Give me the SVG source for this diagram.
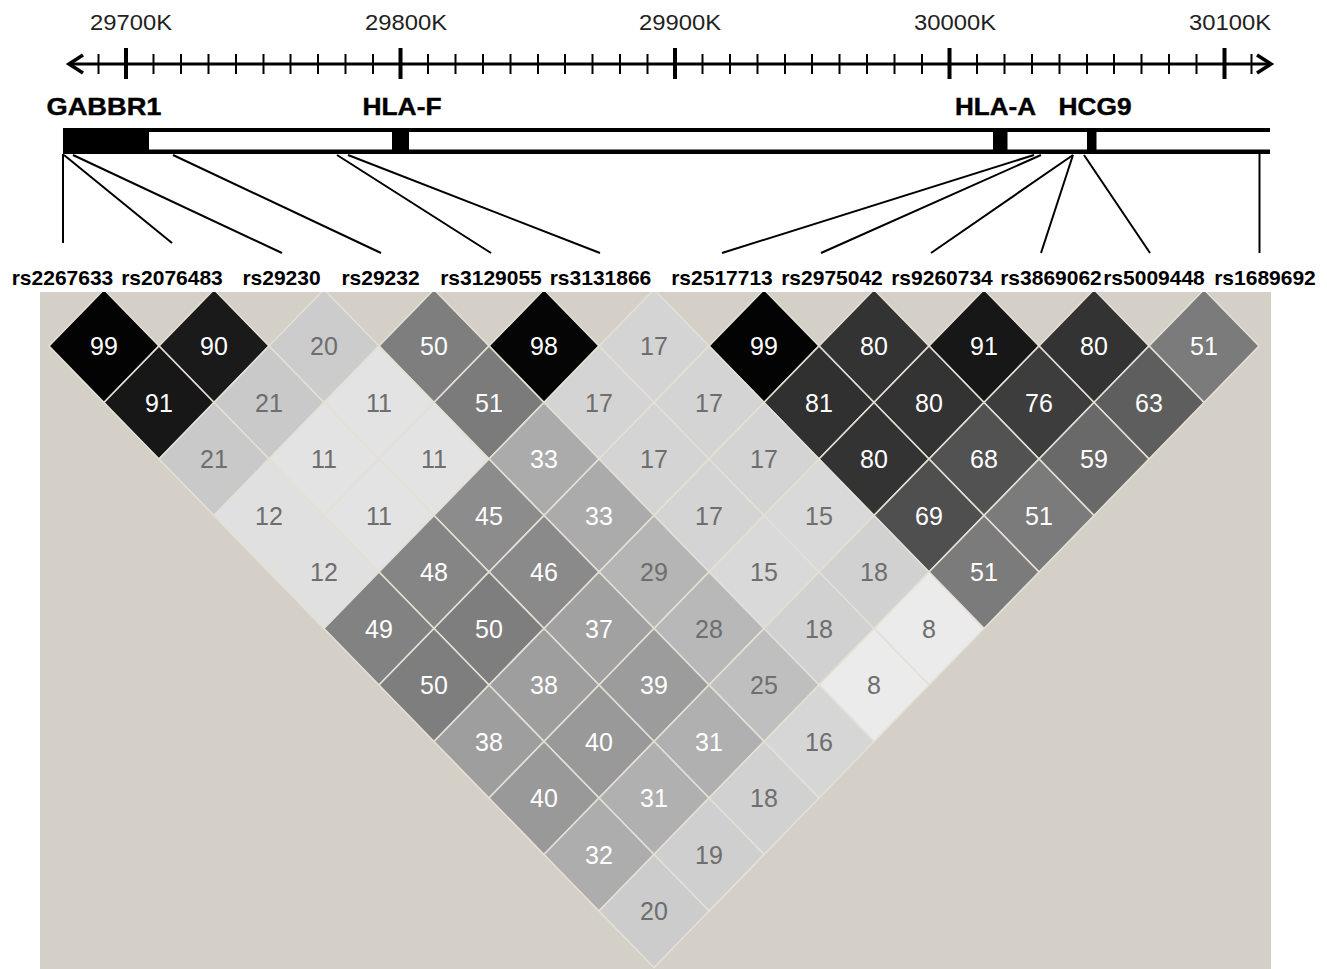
<svg xmlns="http://www.w3.org/2000/svg" xmlns:xlink="http://www.w3.org/1999/xlink" width="1327" height="969" viewBox="0 0 1327 969">
<style>
.ax{font-family:"Liberation Sans",Arial,sans-serif;font-size:22px;fill:#222;text-anchor:middle}
.gene{font-family:"Liberation Sans",Arial,sans-serif;font-size:23px;font-weight:bold;fill:#000;text-anchor:middle;stroke:#000;stroke-width:0.4}
.snp{font-family:"Liberation Sans",Arial,sans-serif;font-size:21px;font-weight:bold;fill:#000;text-anchor:middle}
.n{font-family:"Liberation Sans",Arial,sans-serif;font-size:25px;text-anchor:middle}
.tw{fill:#ffffff}
.tg{fill:#6e6e6e}
.con line{stroke:#000;stroke-width:2}
use{stroke:#e4e0d4;stroke-width:1.6}
.v99{fill:#030303}.v98{fill:#050505}.v91{fill:#171717}.v90{fill:#1a1a1a}.v81{fill:#303030}.v80{fill:#333333}.v76{fill:#3d3d3d}.v69{fill:#4f4f4f}.v68{fill:#525252}.v63{fill:#5e5e5e}.v59{fill:#696969}.v51{fill:#7b7b7b}.v50{fill:#7e7e7e}.v49{fill:#828282}.v48{fill:#858585}.v46{fill:#8a8a8a}.v45{fill:#8c8c8c}.v40{fill:#999999}.v39{fill:#9c9c9c}.v38{fill:#9e9e9e}.v37{fill:#a1a1a1}.v33{fill:#ababab}.v32{fill:#adadad}.v31{fill:#b0b0b0}.v29{fill:#b5b5b5}.v28{fill:#b8b8b8}.v25{fill:#bfbfbf}.v21{fill:#c9c9c9}.v20{fill:#cccccc}.v19{fill:#cfcfcf}.v18{fill:#d1d1d1}.v17{fill:#d4d4d4}.v16{fill:#d6d6d6}.v15{fill:#d9d9d9}.v12{fill:#e0e0e0}.v11{fill:#e3e3e3}.v8{fill:#ebebeb}
</style>
<defs>
<path id="dia" d="M0,-56.5 L55,0 L0,56.5 L-55,0Z"/>
<clipPath id="bgclip"><rect x="40" y="292" width="1231" height="677"/></clipPath>
</defs>
<rect width="1327" height="969" fill="#ffffff"/>

<g id="axis">
<line x1="70" y1="64" x2="1270" y2="64" stroke="#000" stroke-width="3"/>
<polyline points="83,55 69,64 83,73" fill="none" stroke="#000" stroke-width="3.5"/>
<polyline points="1257,55 1271,64 1257,73" fill="none" stroke="#000" stroke-width="3.5"/>
<path d="M98.5 54V74M153.5 54V74M181 54V74M208.5 54V74M236 54V74M263.5 54V74M290.5 54V74M318 54V74M345.5 54V74M373 54V74M428 54V74M455.5 54V74M483 54V74M510.5 54V74M538 54V74M565 54V74M592.5 54V74M620 54V74M647.5 54V74M702.5 54V74M730 54V74M757.5 54V74M785 54V74M812 54V74M839.5 54V74M867 54V74M894.5 54V74M922 54V74M977 54V74M1004.5 54V74M1032 54V74M1059.5 54V74M1087 54V74M1114 54V74M1141.5 54V74M1169 54V74M1196.5 54V74M1251.5 54V74" stroke="#000" stroke-width="2"/>
<path d="M126 48V79M400.5 48V79M675 48V79M949.5 48V79M1224.5 48V79" stroke="#000" stroke-width="4"/>
<text class="ax" x="131" y="30" textLength="82" lengthAdjust="spacingAndGlyphs">29700K</text>
<text class="ax" x="406" y="30" textLength="82" lengthAdjust="spacingAndGlyphs">29800K</text>
<text class="ax" x="680" y="30" textLength="82" lengthAdjust="spacingAndGlyphs">29900K</text>
<text class="ax" x="955" y="30" textLength="82" lengthAdjust="spacingAndGlyphs">30000K</text>
<text class="ax" x="1230" y="30" textLength="82" lengthAdjust="spacingAndGlyphs">30100K</text>
</g>

<g id="genebar">
<rect x="63" y="128" width="1207" height="4" fill="#000"/>
<rect x="63" y="149.5" width="1207" height="4.5" fill="#000"/>
</g>
<g id="gene-GABBR1">
<rect x="63" y="128" width="86" height="26" fill="#000"/>
<text class="gene" x="104" y="115" textLength="115" lengthAdjust="spacingAndGlyphs">GABBR1</text>
</g>
<g id="gene-HLA-F">
<rect x="392" y="128" width="17" height="26" fill="#000"/>
<text class="gene" x="402" y="115" textLength="79" lengthAdjust="spacingAndGlyphs">HLA-F</text>
</g>
<g id="gene-HLA-A">
<rect x="993" y="128" width="14.5" height="26" fill="#000"/>
<text class="gene" x="995.5" y="115" textLength="81" lengthAdjust="spacingAndGlyphs">HLA-A</text>
</g>
<g id="gene-HCG9">
<rect x="1087" y="128" width="9.5" height="26" fill="#000"/>
<text class="gene" x="1095" y="115" textLength="73" lengthAdjust="spacingAndGlyphs">HCG9</text>
</g>

<g id="connectors" class="con">
<line x1="63" y1="154" x2="63" y2="243"/>
<line x1="64" y1="155" x2="172" y2="243"/>
<line x1="73" y1="155" x2="282" y2="253"/>
<line x1="173" y1="155" x2="381" y2="253"/>
<line x1="337" y1="155" x2="491" y2="253"/>
<line x1="348" y1="155" x2="600" y2="253"/>
<line x1="1034" y1="155" x2="722" y2="253"/>
<line x1="1041" y1="155" x2="821" y2="253"/>
<line x1="1073" y1="155" x2="931" y2="253"/>
<line x1="1073" y1="155" x2="1041" y2="253"/>
<line x1="1084" y1="155" x2="1150" y2="253"/>
<line x1="1259.5" y1="154" x2="1259.5" y2="253"/>
</g>

<g id="snp-labels">
<text class="snp" x="62.5" y="285">rs2267633</text>
<text class="snp" x="172" y="285">rs2076483</text>
<text class="snp" x="281.5" y="285">rs29230</text>
<text class="snp" x="380.5" y="285">rs29232</text>
<text class="snp" x="491" y="285">rs3129055</text>
<text class="snp" x="600.5" y="285">rs3131866</text>
<text class="snp" x="722" y="285">rs2517713</text>
<text class="snp" x="832" y="285">rs2975042</text>
<text class="snp" x="942" y="285">rs9260734</text>
<text class="snp" x="1051" y="285">rs3869062</text>
<text class="snp" x="1154" y="285">rs5009448</text>
<text class="snp" x="1265" y="285">rs1689692</text>
</g>

<rect id="ld-background" x="40" y="292" width="1231" height="677" fill="#d4d0c8"/>

<g id="ld-plot" clip-path="url(#bgclip)">
<g id="ld-1-2"><use href="#dia" x="104" y="346" class="v99"/><text class="n tw" x="104" y="355">99</text></g>
<g id="ld-2-3"><use href="#dia" x="214" y="346" class="v90"/><text class="n tw" x="214" y="355">90</text></g>
<g id="ld-3-4"><use href="#dia" x="324" y="346" class="v20"/><text class="n tg" x="324" y="355">20</text></g>
<g id="ld-4-5"><use href="#dia" x="434" y="346" class="v50"/><text class="n tw" x="434" y="355">50</text></g>
<g id="ld-5-6"><use href="#dia" x="544" y="346" class="v98"/><text class="n tw" x="544" y="355">98</text></g>
<g id="ld-6-7"><use href="#dia" x="654" y="346" class="v17"/><text class="n tg" x="654" y="355">17</text></g>
<g id="ld-7-8"><use href="#dia" x="764" y="346" class="v99"/><text class="n tw" x="764" y="355">99</text></g>
<g id="ld-8-9"><use href="#dia" x="874" y="346" class="v80"/><text class="n tw" x="874" y="355">80</text></g>
<g id="ld-9-10"><use href="#dia" x="984" y="346" class="v91"/><text class="n tw" x="984" y="355">91</text></g>
<g id="ld-10-11"><use href="#dia" x="1094" y="346" class="v80"/><text class="n tw" x="1094" y="355">80</text></g>
<g id="ld-11-12"><use href="#dia" x="1204" y="346" class="v51"/><text class="n tw" x="1204" y="355">51</text></g>

<g id="ld-1-3"><use href="#dia" x="159" y="402.5" class="v91"/><text class="n tw" x="159" y="411.5">91</text></g>
<g id="ld-2-4"><use href="#dia" x="269" y="402.5" class="v21"/><text class="n tg" x="269" y="411.5">21</text></g>
<g id="ld-3-5"><use href="#dia" x="379" y="402.5" class="v11"/><text class="n tg" x="379" y="411.5">11</text></g>
<g id="ld-4-6"><use href="#dia" x="489" y="402.5" class="v51"/><text class="n tw" x="489" y="411.5">51</text></g>
<g id="ld-5-7"><use href="#dia" x="599" y="402.5" class="v17"/><text class="n tg" x="599" y="411.5">17</text></g>
<g id="ld-6-8"><use href="#dia" x="709" y="402.5" class="v17"/><text class="n tg" x="709" y="411.5">17</text></g>
<g id="ld-7-9"><use href="#dia" x="819" y="402.5" class="v81"/><text class="n tw" x="819" y="411.5">81</text></g>
<g id="ld-8-10"><use href="#dia" x="929" y="402.5" class="v80"/><text class="n tw" x="929" y="411.5">80</text></g>
<g id="ld-9-11"><use href="#dia" x="1039" y="402.5" class="v76"/><text class="n tw" x="1039" y="411.5">76</text></g>
<g id="ld-10-12"><use href="#dia" x="1149" y="402.5" class="v63"/><text class="n tw" x="1149" y="411.5">63</text></g>

<g id="ld-1-4"><use href="#dia" x="214" y="459" class="v21"/><text class="n tg" x="214" y="468">21</text></g>
<g id="ld-2-5"><use href="#dia" x="324" y="459" class="v11"/><text class="n tg" x="324" y="468">11</text></g>
<g id="ld-3-6"><use href="#dia" x="434" y="459" class="v11"/><text class="n tg" x="434" y="468">11</text></g>
<g id="ld-4-7"><use href="#dia" x="544" y="459" class="v33"/><text class="n tw" x="544" y="468">33</text></g>
<g id="ld-5-8"><use href="#dia" x="654" y="459" class="v17"/><text class="n tg" x="654" y="468">17</text></g>
<g id="ld-6-9"><use href="#dia" x="764" y="459" class="v17"/><text class="n tg" x="764" y="468">17</text></g>
<g id="ld-7-10"><use href="#dia" x="874" y="459" class="v80"/><text class="n tw" x="874" y="468">80</text></g>
<g id="ld-8-11"><use href="#dia" x="984" y="459" class="v68"/><text class="n tw" x="984" y="468">68</text></g>
<g id="ld-9-12"><use href="#dia" x="1094" y="459" class="v59"/><text class="n tw" x="1094" y="468">59</text></g>

<g id="ld-1-5"><use href="#dia" x="269" y="515.5" class="v12"/><text class="n tg" x="269" y="524.5">12</text></g>
<g id="ld-2-6"><use href="#dia" x="379" y="515.5" class="v11"/><text class="n tg" x="379" y="524.5">11</text></g>
<g id="ld-3-7"><use href="#dia" x="489" y="515.5" class="v45"/><text class="n tw" x="489" y="524.5">45</text></g>
<g id="ld-4-8"><use href="#dia" x="599" y="515.5" class="v33"/><text class="n tw" x="599" y="524.5">33</text></g>
<g id="ld-5-9"><use href="#dia" x="709" y="515.5" class="v17"/><text class="n tg" x="709" y="524.5">17</text></g>
<g id="ld-6-10"><use href="#dia" x="819" y="515.5" class="v15"/><text class="n tg" x="819" y="524.5">15</text></g>
<g id="ld-7-11"><use href="#dia" x="929" y="515.5" class="v69"/><text class="n tw" x="929" y="524.5">69</text></g>
<g id="ld-8-12"><use href="#dia" x="1039" y="515.5" class="v51"/><text class="n tw" x="1039" y="524.5">51</text></g>

<g id="ld-1-6"><use href="#dia" x="324" y="572" class="v12"/><text class="n tg" x="324" y="581">12</text></g>
<g id="ld-2-7"><use href="#dia" x="434" y="572" class="v48"/><text class="n tw" x="434" y="581">48</text></g>
<g id="ld-3-8"><use href="#dia" x="544" y="572" class="v46"/><text class="n tw" x="544" y="581">46</text></g>
<g id="ld-4-9"><use href="#dia" x="654" y="572" class="v29"/><text class="n tg" x="654" y="581">29</text></g>
<g id="ld-5-10"><use href="#dia" x="764" y="572" class="v15"/><text class="n tg" x="764" y="581">15</text></g>
<g id="ld-6-11"><use href="#dia" x="874" y="572" class="v18"/><text class="n tg" x="874" y="581">18</text></g>
<g id="ld-7-12"><use href="#dia" x="984" y="572" class="v51"/><text class="n tw" x="984" y="581">51</text></g>

<g id="ld-1-7"><use href="#dia" x="379" y="628.5" class="v49"/><text class="n tw" x="379" y="637.5">49</text></g>
<g id="ld-2-8"><use href="#dia" x="489" y="628.5" class="v50"/><text class="n tw" x="489" y="637.5">50</text></g>
<g id="ld-3-9"><use href="#dia" x="599" y="628.5" class="v37"/><text class="n tw" x="599" y="637.5">37</text></g>
<g id="ld-4-10"><use href="#dia" x="709" y="628.5" class="v28"/><text class="n tg" x="709" y="637.5">28</text></g>
<g id="ld-5-11"><use href="#dia" x="819" y="628.5" class="v18"/><text class="n tg" x="819" y="637.5">18</text></g>
<g id="ld-6-12"><use href="#dia" x="929" y="628.5" class="v8"/><text class="n tg" x="929" y="637.5">8</text></g>

<g id="ld-1-8"><use href="#dia" x="434" y="685" class="v50"/><text class="n tw" x="434" y="694">50</text></g>
<g id="ld-2-9"><use href="#dia" x="544" y="685" class="v38"/><text class="n tw" x="544" y="694">38</text></g>
<g id="ld-3-10"><use href="#dia" x="654" y="685" class="v39"/><text class="n tw" x="654" y="694">39</text></g>
<g id="ld-4-11"><use href="#dia" x="764" y="685" class="v25"/><text class="n tg" x="764" y="694">25</text></g>
<g id="ld-5-12"><use href="#dia" x="874" y="685" class="v8"/><text class="n tg" x="874" y="694">8</text></g>

<g id="ld-1-9"><use href="#dia" x="489" y="741.5" class="v38"/><text class="n tw" x="489" y="750.5">38</text></g>
<g id="ld-2-10"><use href="#dia" x="599" y="741.5" class="v40"/><text class="n tw" x="599" y="750.5">40</text></g>
<g id="ld-3-11"><use href="#dia" x="709" y="741.5" class="v31"/><text class="n tw" x="709" y="750.5">31</text></g>
<g id="ld-4-12"><use href="#dia" x="819" y="741.5" class="v16"/><text class="n tg" x="819" y="750.5">16</text></g>

<g id="ld-1-10"><use href="#dia" x="544" y="798" class="v40"/><text class="n tw" x="544" y="807">40</text></g>
<g id="ld-2-11"><use href="#dia" x="654" y="798" class="v31"/><text class="n tw" x="654" y="807">31</text></g>
<g id="ld-3-12"><use href="#dia" x="764" y="798" class="v18"/><text class="n tg" x="764" y="807">18</text></g>

<g id="ld-1-11"><use href="#dia" x="599" y="854.5" class="v32"/><text class="n tw" x="599" y="863.5">32</text></g>
<g id="ld-2-12"><use href="#dia" x="709" y="854.5" class="v19"/><text class="n tg" x="709" y="863.5">19</text></g>

<g id="ld-1-12"><use href="#dia" x="654" y="911" class="v20"/><text class="n tg" x="654" y="920">20</text></g>
</g>
</svg>
